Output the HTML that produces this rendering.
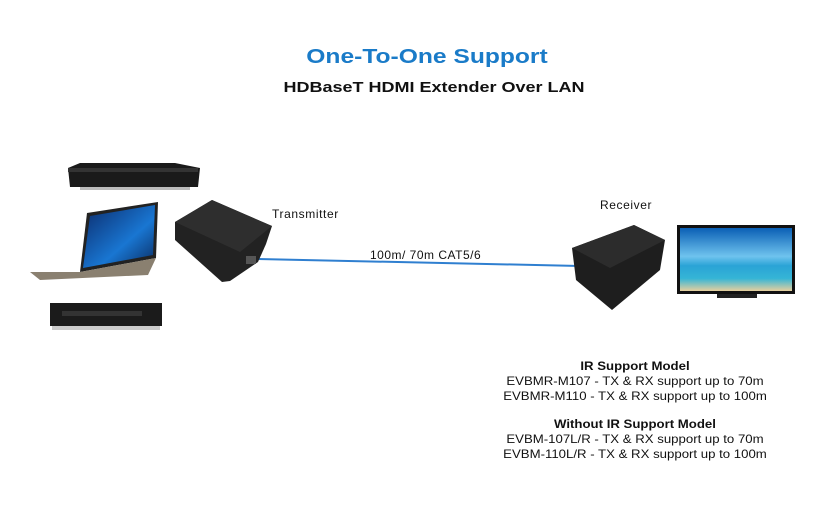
<!DOCTYPE html>
<html><head><meta charset="utf-8"><style>
html,body{margin:0;padding:0;background:#fff;}
body{width:821px;height:514px;position:relative;overflow:hidden;font-family:"Liberation Sans",Verdana,sans-serif;}
.t{position:absolute;white-space:nowrap;}
</style></head><body>
<div class="t" style="left:0;width:854px;text-align:center;top:46px;font-size:20px;font-weight:bold;color:#1a7bc8;transform:scaleX(1.23);transform-origin:427px 0;">One-To-One Support</div>
<div class="t" style="left:0;width:868px;text-align:center;top:79px;font-size:15px;font-weight:bold;color:#111;transform:scaleX(1.2);transform-origin:434px 0;">HDBaseT HDMI Extender Over LAN</div>
<div class="t" style="left:272px;top:207px;font-size:12px;color:#111;letter-spacing:0.6px;">Transmitter</div>
<div class="t" style="left:600px;top:198px;font-size:12px;color:#111;letter-spacing:0.6px;">Receiver</div>
<div class="t" style="left:370px;top:248px;font-size:12px;color:#111;letter-spacing:0.5px;">100m/ 70m CAT5/6</div>
<div class="t" style="left:500px;width:270px;text-align:center;top:359px;font-size:12px;line-height:15px;color:#111;transform:scaleX(1.1);transform-origin:135px 0;">
<b>IR Support Model</b><br>EVBMR-M107 - TX &amp; RX support up to 70m<br>EVBMR-M110 - TX &amp; RX support up to 100m<br><div style="height:13px"></div>
<b>Without IR Support Model</b><br>EVBM-107L/R - TX &amp; RX support up to 70m<br>EVBM-110L/R - TX &amp; RX support up to 100m</div>
<svg width="821" height="514" style="position:absolute;left:0;top:0">
<defs>
<linearGradient id="sky" x1="0" y1="0" x2="0" y2="1"><stop offset="0" stop-color="#0a5fb5"/><stop offset="0.45" stop-color="#6fc3ee"/><stop offset="0.6" stop-color="#2aa3d6"/><stop offset="0.8" stop-color="#35b5d6"/><stop offset="1" stop-color="#e6cf9e"/></linearGradient>
<linearGradient id="win" x1="0" y1="0" x2="1" y2="1"><stop offset="0" stop-color="#0b2a6a"/><stop offset="0.6" stop-color="#1976d2"/><stop offset="1" stop-color="#0a2a5e"/></linearGradient>
</defs>
<path d="M258,259 L580,266" stroke="#2f7fd0" stroke-width="2" fill="none"/>
<polygon points="68,168 80,163 175,163 200,168 198,187 70,187" fill="#1a1a1a"/>
<polygon points="68,168 175,168 198,168 198,172 68,172" fill="#333"/>
<rect x="80" y="187" width="110" height="3" fill="#bbb"/>
<polygon points="87,213 158,202 156,258 80,272" fill="#222"/>
<polygon points="90,216 155,205 153,255 83,268" fill="url(#win)"/>
<polygon points="30,272 80,272 156,258 148,275 40,280" fill="#8a8070"/>
<rect x="50" y="303" width="112" height="23" fill="#1b1b1b"/>
<rect x="62" y="311" width="80" height="5" fill="#333"/>
<rect x="52" y="326" width="108" height="4" fill="#ccc"/>
<polygon points="175,222 212,200 272,226 266,244 258,262 230,281 222,282 175,240" fill="#222"/>
<polygon points="175,222 212,200 272,226 240,252" fill="#2e2e2e"/>
<rect x="246" y="256" width="10" height="8" fill="#555"/>
<polygon points="572,248 634,225 665,240 660,270 612,310 576,280" fill="#1e1e1e"/>
<polygon points="572,248 634,225 665,240 610,268" fill="#2c2c2c"/>
<rect x="677" y="225" width="118" height="69" fill="#111"/>
<rect x="680" y="228" width="112" height="63" fill="url(#sky)"/>
<rect x="717" y="294" width="40" height="4" fill="#222"/>
</svg>
</body></html>
